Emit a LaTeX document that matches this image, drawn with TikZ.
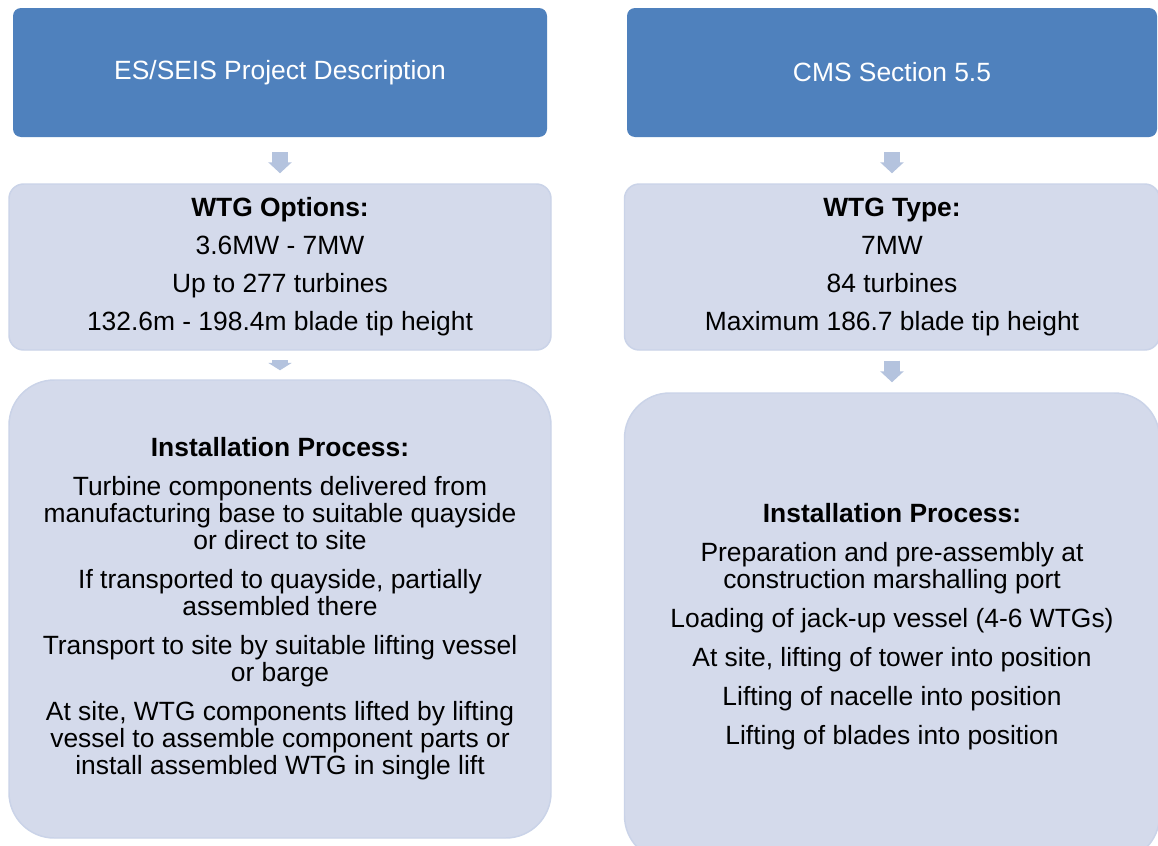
\documentclass[tikz,border=0pt]{standalone}
\usepackage{fontspec}
\setmainfont{Liberation Sans}
\usepackage{tikz}
\usetikzlibrary{arrows.meta}
\definecolor{hdrblue}{RGB}{79,129,189}
\definecolor{boxfill}{RGB}{212,218,235}
\definecolor{boxline}{RGB}{202,211,232}
\definecolor{flowblue}{RGB}{180,195,222}
\tikzset{
  header/.style={rectangle, fill=hdrblue, text=white, rounded corners=6pt, minimum height=96.75pt,
    inner sep=0pt, align=center, font=\fontsize{19.8}{24}\selectfont},
  infobox/.style={rectangle, fill=boxfill, draw=boxline, line width=1.1pt, inner sep=0pt, align=center},
  flow/.style={-{Triangle[width=17.25pt,length=8.25pt]}, line width=12pt, color=flowblue}
}

\begin{document}
\begin{tikzpicture}[x=0.75pt, y=-0.75pt,
  listfont/.style={font=\fontsize{19.8}{28.5}\selectfont},
  stepfont/.style={font=\fontsize{19.8}{20.25}\selectfont}
]
\path[use as bounding box, fill=white] (0,0) rectangle (1158,846);
% left column
\node[header, minimum width=400.5pt] (hdrL) at (280,72.5) {ES/SEIS Project Description};
\node[infobox, listfont, rounded corners=11pt, minimum width=406.5pt, minimum height=124.5pt] (optL) at (280,267)
  {\textbf{WTG Options:}\\3.6MW - 7MW\\Up to 277 turbines\\132.6m - 198.4m blade tip height};
\node[infobox, stepfont, rounded corners=34pt, minimum width=406.5pt, minimum height=343.5pt] (instL) at (280,609)
  {\textbf{Installation Process:}\\[9pt]
   Turbine components delivered from\\manufacturing base to suitable quayside\\or direct to site\\[9pt]
   If transported to quayside, partially\\assembled there\\[9pt]
   Transport to site by suitable lifting vessel\\or barge\\[9pt]
   At site, WTG components lifted by lifting\\vessel to assemble component parts or\\install assembled WTG in single lift};
% right column
\node[header, minimum width=397.5pt] (hdrR) at (892,72.5) {CMS Section 5.5};
\node[infobox, listfont, rounded corners=11pt, minimum width=401.25pt, minimum height=124.5pt] (typeR) at (892,267)
  {\textbf{WTG Type:}\\7MW\\84 turbines\\Maximum 186.7 blade tip height};
\node[infobox, stepfont, rounded corners=34pt, minimum width=401.25pt, minimum height=351pt] (instR) at (892,627)
  {\textbf{Installation Process:}\\[9pt]
   Preparation and pre-assembly at\\construction marshalling port\\[9pt]
   Loading of jack-up vessel (4-6 WTGs)\\[9pt]
   At site, lifting of tower into position\\[9pt]
   Lifting of nacelle into position\\[9pt]
   Lifting of blades into position};
% flow arrows
\draw[flow, shorten <=11.25pt, shorten >=7.5pt] (hdrL) -- (optL);
\draw[flow, -{Triangle[width=17.25pt,length=5.5pt]}, shorten <=7pt, shorten >=6.75pt] (optL) -- (instL);
\draw[flow, shorten <=11.25pt, shorten >=7.5pt] (hdrR) -- (typeR);
\draw[flow, shorten <=7.5pt, shorten >=7.5pt] (typeR) -- (instR);
\end{tikzpicture}
\end{document}
